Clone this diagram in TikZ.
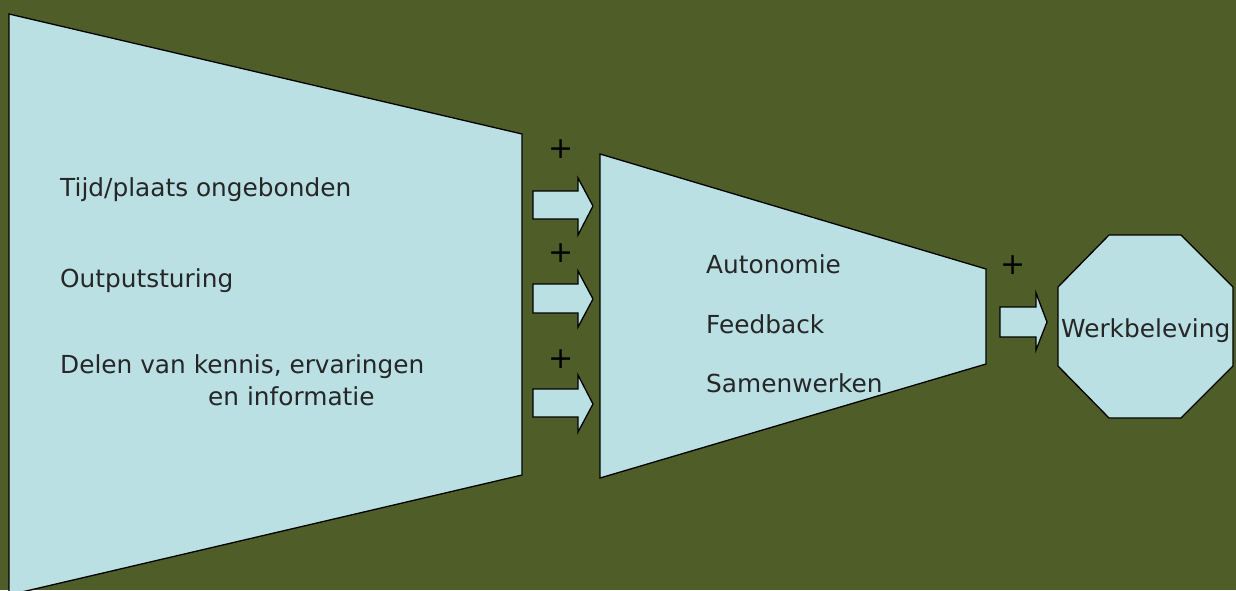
\documentclass[tikz,border=0pt]{standalone}
\usepackage{fontspec}
\setmainfont{DejaVu Sans}
\definecolor{bgolive}{RGB}{79,94,40}
\definecolor{paleblue}{RGB}{186,224,228}
\tikzset{
  shapefill/.style={fill=paleblue, draw=black, line width=1.3pt, line join=miter},
  lbl/.style={anchor=base west, inner sep=0pt, font=\fontsize{24.8}{28}\selectfont, text=black!85},
  plussign/.style={inner sep=0pt, font=\fontsize{30}{32}\selectfont, text=black},
}
\begin{document}
\begin{tikzpicture}[x=1pt,y=-1pt]
\useasboundingbox (0,0) rectangle (1236,590);
\fill[bgolive] (0,0) rectangle (1236,590);
\begin{scope}
\clip (0,0) rectangle (1236,590);
% left trapezoid
\draw[shapefill] (9,14) -- (522,134) -- (522,475) -- (9,595) -- cycle;
% middle trapezoid
\draw[shapefill] (600,154) -- (986,269) -- (986,364) -- (600,478) -- cycle;
% block arrows
\draw[shapefill] (533,191) -- (578,191) -- (578,178) -- (593,206) -- (578,235) -- (578,219) -- (533,219) -- cycle;
\draw[shapefill] (533,284) -- (578,284) -- (578,271) -- (593,299) -- (578,327) -- (578,313) -- (533,313) -- cycle;
\draw[shapefill] (533,389) -- (578,389) -- (578,375) -- (593,404) -- (578,432) -- (578,417) -- (533,417) -- cycle;
\draw[shapefill] (1000,307) -- (1036,307) -- (1036,293) -- (1047,322) -- (1036,350) -- (1036,337) -- (1000,337) -- cycle;
% octagon
\draw[shapefill] (1109,235) -- (1181,235) -- (1233,287) -- (1233,366) -- (1181,418) -- (1109,418) -- (1058,366) -- (1058,287) -- cycle;
\end{scope}
% texts
\node[lbl] (t1) at (60,196) {Tijd/plaats ongebonden};
\node[lbl] (t2) at (60,287) {Outputsturing};
\node[lbl] (t3) at (60,373) {Delen van kennis, ervaringen};
\node[lbl] (t4) at (208,405) {en informatie};
\node[lbl] (m1) at (706,273) {Autonomie};
\node[lbl] (m2) at (706,333) {Feedback};
\node[lbl] (m3) at (706,392) {Samenwerken};
\node[lbl] (w) at (1061,337) {Werkbeleving};
% plus signs
\node[plussign] (p1) at (561,149) {+};
\node[plussign] (p2) at (561,253) {+};
\node[plussign] (p3) at (561,359) {+};
\node[plussign] (p4) at (1013,265) {+};
\end{tikzpicture}
\end{document}
